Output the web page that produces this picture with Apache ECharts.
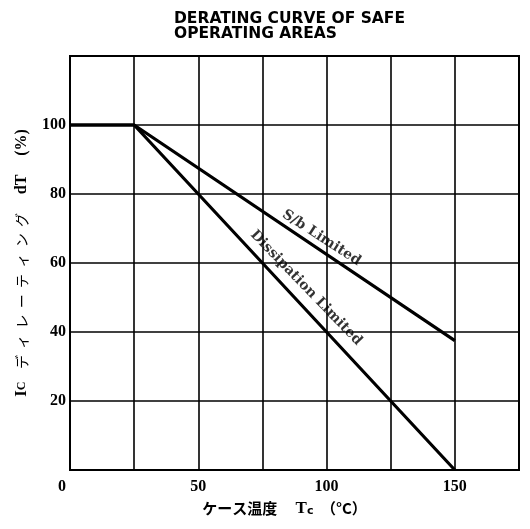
<!DOCTYPE html>
<html><head><meta charset="utf-8">
<script src="https://cdn.jsdelivr.net/npm/echarts@6/dist/echarts.min.js"></script>
<style>html,body{margin:0;padding:0;background:#fff}#c{width:530px;height:529px}</style>
</head><body><div id="c"></div>
<script>
const tempC = [0, 25, 150];
const sbLimited = [100, 100, 37.5];
const dissipationLimited = [100, 100, 0];
const xTickLabels = [0, 50, 100, 150];
const yTickLabels = [20, 40, 60, 80, 100];
const curveLabels = ['S/b Limited', 'Dissipation Limited'];

const chart = echarts.init(document.getElementById('c'));
const serif = 'Liberation Serif';
chart.setOption({
  animation: false,
  title: {
    text: 'DERATING CURVE OF SAFE\nOPERATING AREAS',
    left: 169, top: 6,
    textStyle: {fontFamily: 'DejaVu Sans', fontWeight: 'bold', fontSize: 15.5, color: '#000', lineHeight: 15}
  },
  grid: {left: 70, right: 11, top: 56, bottom: 59, show: true, borderColor: '#000', borderWidth: 2},
  xAxis: {
    type: 'value', min: 0, max: 175, interval: 25,
    name: 'ケース温度　 {b|T}{s|c}　（°C）',
    nameLocation: 'middle', nameGap: 30,
    nameTextStyle: {fontFamily: 'Noto Sans CJK JP', fontSize: 15, color: '#000', fontWeight: 'bold',
      padding: [0, 20, 0, 0],
      rich: {b: {fontFamily: serif, fontSize: 17, fontWeight: 'bold', color: '#000'},
             s: {fontFamily: 'DejaVu Sans', fontSize: 11, fontWeight: 'bold', color: '#000', verticalAlign: 'bottom', padding: [6,0,0,0]}}},
    axisLine: {lineStyle: {color: '#000', width: 2}},
    axisTick: {show: false},
    splitLine: {lineStyle: {color: '#000', width: 1.6}},
    axisLabel: {
      fontFamily: serif, fontWeight: 'bold', fontSize: 16, color: '#000', margin: 9,
      formatter: v => v === 0 ? '{z|0}' : (xTickLabels.includes(v) ? String(v) : ''),
      rich: {z: {fontFamily: serif, fontWeight: 'bold', fontSize: 16, color: '#000', padding: [0, 16, 0, 0]}}
    }
  },
  yAxis: {
    type: 'value', min: 0, max: 120, interval: 20,
    name: '{i|I}{s|C}    デ  ィ  レ  ー  テ  ィ  ン  グ      {b|dT}      {p|(%)}',
    nameLocation: 'middle', nameGap: 40, nameRotate: 90,
    nameTextStyle: {fontFamily: 'Noto Sans CJK JP', fontSize: 14, color: '#000',
      rich: {i: {fontFamily: serif, fontSize: 17, fontWeight: 'bold', color: '#000'},
             s: {fontFamily: serif, fontSize: 12, fontWeight: 'bold', color: '#000'},
             b: {fontFamily: serif, fontSize: 16, fontWeight: 'bold', color: '#000'},
             p: {fontFamily: serif, fontSize: 16, fontWeight: 'bold', color: '#000'}}},
    axisLine: {lineStyle: {color: '#000', width: 2}},
    axisTick: {show: false},
    splitLine: {lineStyle: {color: '#000', width: 1.6}},
    axisLabel: {
      fontFamily: serif, fontWeight: 'bold', fontSize: 16, color: '#000', margin: 4,
      formatter: v => yTickLabels.includes(v) ? String(v) : ''
    }
  },
  series: [
    {type: 'line', data: tempC.map((t, i) => [t, sbLimited[i]]), symbol: 'none',
     lineStyle: {color: '#000', width: 3.2}},
    {type: 'line', data: tempC.map((t, i) => [t, dissipationLimited[i]]), symbol: 'none',
     lineStyle: {color: '#000', width: 3.2}},
    {type: 'scatter', symbolSize: 0, silent: true,
     data: [
       {value: [98, 67.3], label: {formatter: curveLabels[0], rotate: -33}},
       {value: [92, 52.8], label: {formatter: curveLabels[1], rotate: -46}}
     ],
     label: {show: true, position: 'inside', fontFamily: 'DejaVu Serif', fontWeight: 'bold', fontSize: 14, color: '#000'}}
  ]
});
</script></body></html>
